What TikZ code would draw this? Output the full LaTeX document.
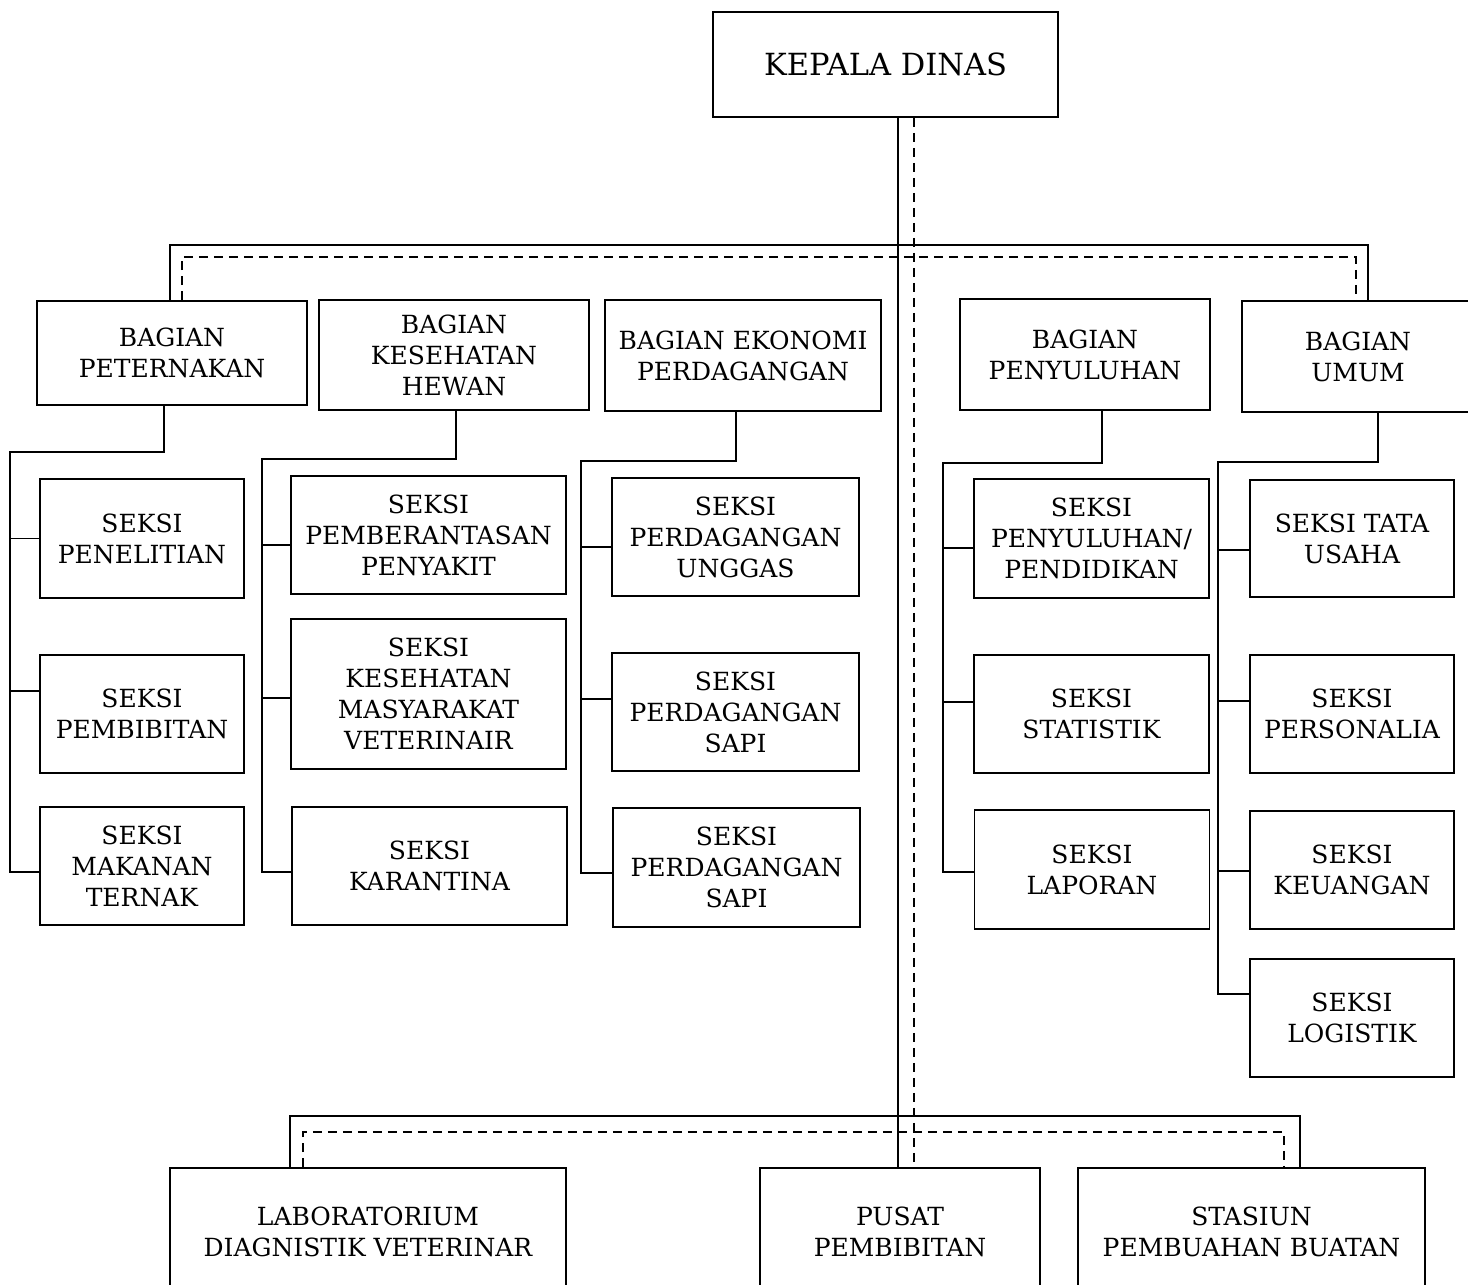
\documentclass[tikz,border=0pt]{standalone}
\usepackage{fontspec}
\setmainfont{DejaVu Serif}

\begin{document}
\begin{tikzpicture}[x=1pt, y=-1pt,
    kotak/.style={draw, line width=1.8pt, inner sep=0pt, align=center,
                  font=\fontsize{25}{31}\selectfont},
    garis/.style={line width=1.8pt},
    putus/.style={line width=1.6pt, dash pattern=on 9pt off 6pt}
]
\useasboundingbox (0,0) rectangle (1468,1285);
\clip (0,0) rectangle (1468,1285);

% pimpinan dan bagian
\node[kotak, minimum width=345pt, minimum height=105pt, font=\fontsize{30.5}{36}\selectfont]
     (kadis) at (885.5,64.5) {KEPALA DINAS};
\node[kotak, minimum width=270pt, minimum height=104pt] (peternakan) at (172,353)   {BAGIAN\\PETERNAKAN};
\node[kotak, minimum width=270pt, minimum height=110pt] (keswan)     at (454,355)   {BAGIAN\\KESEHATAN\\HEWAN};
\node[kotak, minimum width=276pt, minimum height=111pt] (ekonomi)    at (743,355.5) {BAGIAN EKONOMI\\PERDAGANGAN};
\node[kotak, minimum width=250pt, minimum height=111pt] (penyuluhan) at (1085,354.5) {BAGIAN\\PENYULUHAN};
\node[kotak, minimum width=232pt, minimum height=111pt] (umum)       at (1358,356.5) {BAGIAN\\UMUM};

% seksi
\node[kotak, minimum width=204pt, minimum height=119pt] (s11) at (142,538.5) {SEKSI\\PENELITIAN};
\node[kotak, minimum width=204pt, minimum height=118pt] (s12) at (142,714)   {SEKSI\\PEMBIBITAN};
\node[kotak, minimum width=204pt, minimum height=118pt] (s13) at (142,866)   {SEKSI\\MAKANAN\\TERNAK};

\node[kotak, minimum width=275pt, minimum height=118pt] (s21) at (428.5,535) {SEKSI\\PEMBERANTASAN\\PENYAKIT};
\node[kotak, minimum width=275pt, minimum height=150pt] (s22) at (428.5,694) {SEKSI\\KESEHATAN\\MASYARAKAT\\VETERINAIR};
\node[kotak, minimum width=275pt, minimum height=118pt] (s23) at (429.5,866) {SEKSI\\KARANTINA};

\node[kotak, minimum width=247pt, minimum height=118pt] (s31) at (735.5,537)   {SEKSI\\PERDAGANGAN\\UNGGAS};
\node[kotak, minimum width=247pt, minimum height=118pt] (s32) at (735.5,712)   {SEKSI\\PERDAGANGAN\\SAPI};
\node[kotak, minimum width=247pt, minimum height=119pt] (s33) at (736.5,867.5) {SEKSI\\PERDAGANGAN\\SAPI};

\node[kotak, minimum width=235pt, minimum height=119pt] (s41) at (1091.5,538.5) {SEKSI\\PENYULUHAN/\\PENDIDIKAN};
\node[kotak, minimum width=235pt, minimum height=118pt] (s42) at (1091.5,714)   {SEKSI\\STATISTIK};
\node[kotak, minimum width=235pt, minimum height=119pt] (s43) at (1092,869.5)   {SEKSI\\LAPORAN};

\node[kotak, minimum width=204pt, minimum height=117pt] (s51) at (1352,538.5) {SEKSI TATA\\USAHA};
\node[kotak, minimum width=204pt, minimum height=118pt] (s52) at (1352,714)   {SEKSI\\PERSONALIA};
\node[kotak, minimum width=204pt, minimum height=118pt] (s53) at (1352,870)   {SEKSI\\KEUANGAN};
\node[kotak, minimum width=204pt, minimum height=118pt] (s54) at (1352,1018)  {SEKSI\\LOGISTIK};

% unit pelaksana
\node[kotak, minimum width=396pt, minimum height=127pt] (lab)     at (368,1231.5)    {LABORATORIUM\\DIAGNISTIK VETERINAR};
\node[kotak, minimum width=280pt, minimum height=127pt] (pusat)   at (900,1231.5)    {PUSAT\\PEMBIBITAN};
\node[kotak, minimum width=347pt, minimum height=127pt] (stasiun) at (1251.5,1231.5) {STASIUN\\PEMBUAHAN BUATAN};

% garis komando dan koordinasi
\coordinate (tulang)  at (898,0);
\coordinate (tulangp) at (914,0);
\coordinate (busA) at (170,245);  \coordinate (busB) at (1368,245);
\coordinate (busC) at (182,257);  \coordinate (busD) at (1356,257);
\coordinate (busE) at (290,1116); \coordinate (busF) at (1300,1116);
\coordinate (busG) at (303,1132); \coordinate (busH) at (1284,1132);

\draw[garis] (kadis.south -| tulang) -- (pusat.north -| tulang);
\draw[putus] (kadis.south -| tulangp) -- (pusat.north -| tulangp);
\draw[garis] (peternakan.north -| busA) |- (busB) -- (umum.north -| busB);
\draw[putus] (peternakan.north -| busC) |- (busD) -- (umum.north -| busD);
\draw[garis] (lab.north -| busE) |- (busF) -- (stasiun.north -| busF);
\draw[putus] (lab.north -| busG) |- (busH) -- (stasiun.north -| busH);

% bagian ke seksi
\coordinate (k1) at (10,452);
\coordinate (k2) at (262,459);
\coordinate (k3) at (581,461);
\coordinate (k4) at (943,463);
\coordinate (k5) at (1218,462);

\draw[garis] ([xshift=-8pt]peternakan.south) |- (k1) |- ([yshift=-6pt]s13.west);
\draw[garis] (k1) |- (s11.west);
\draw[garis] (k1) |- ([yshift=23pt]s12.west);

\draw[garis] ([xshift=2pt]keswan.south) |- (k2) |- ([yshift=-6pt]s23.west);
\draw[garis] (k2) |- ([yshift=-10pt]s21.west);
\draw[garis] (k2) |- ([yshift=-4pt]s22.west);

\draw[garis] ([xshift=-7pt]ekonomi.south) |- (k3) |- ([yshift=-5.5pt]s33.west);
\draw[garis] (k3) |- ([yshift=-10pt]s31.west);
\draw[garis] (k3) |- ([yshift=13pt]s32.west);

\draw[garis] ([xshift=17pt]penyuluhan.south) |- (k4) |- ([yshift=-2.5pt]s43.west);
\draw[garis] (k4) |- ([yshift=-9.5pt]s41.west);
\draw[garis] (k4) |- ([yshift=12pt]s42.west);

\draw[garis] ([xshift=20pt]umum.south) |- (k5) |- ([yshift=24pt]s54.west);
\draw[garis] (k5) |- ([yshift=-11.5pt]s51.west);
\draw[garis] (k5) |- ([yshift=13pt]s52.west);
\draw[garis] (k5) |- ([yshift=-1pt]s53.west);
\end{tikzpicture}
\end{document}
